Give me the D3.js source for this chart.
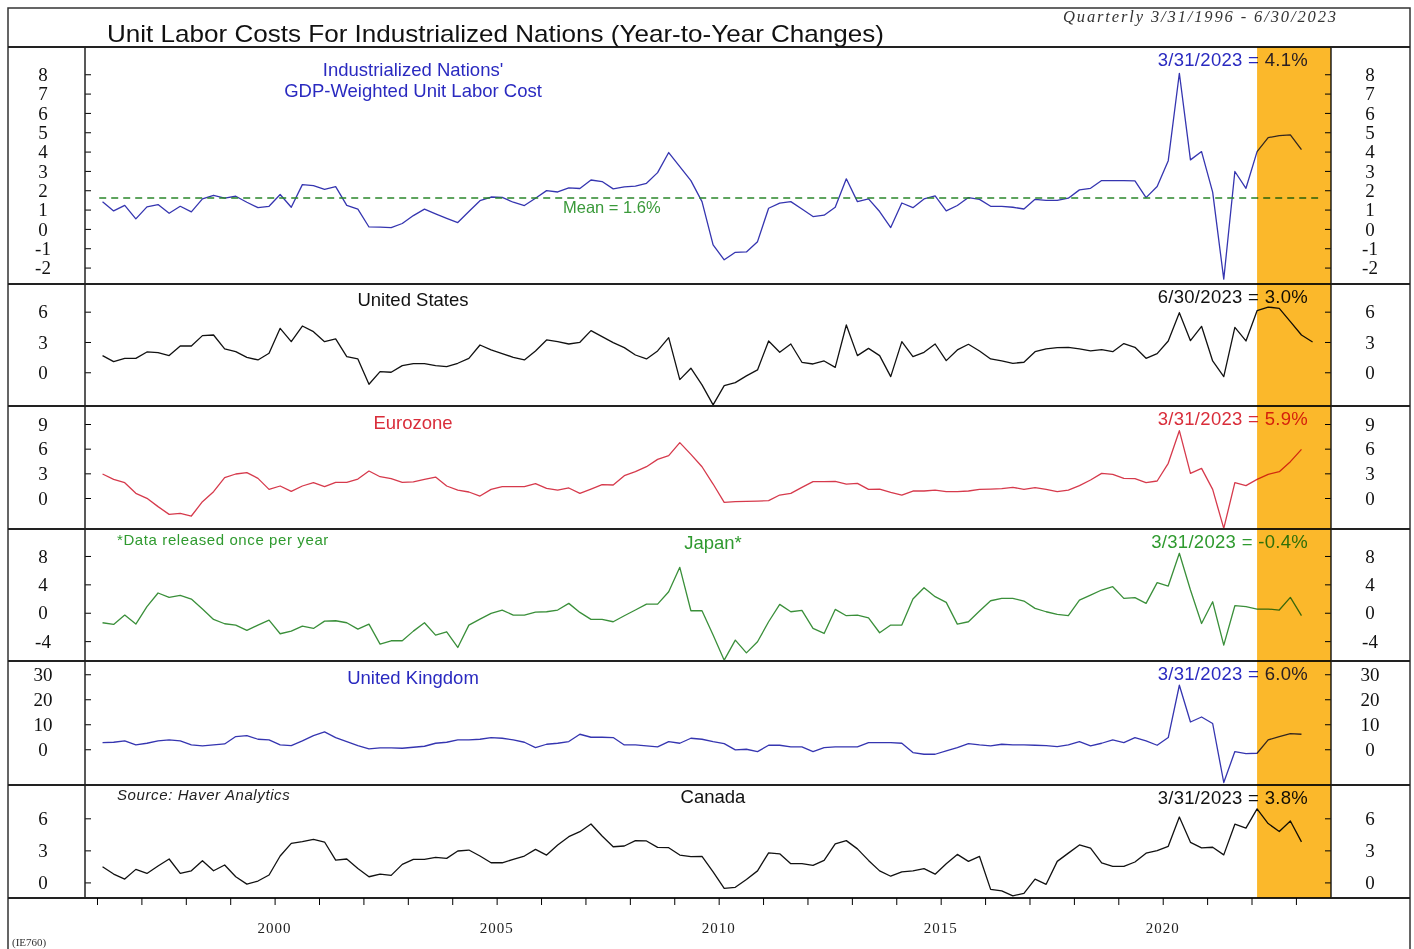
<!DOCTYPE html>
<html>
<head>
<meta charset="utf-8">
<script src="https://cdn.jsdelivr.net/npm/d3@7"></script>
<style>
  body { margin: 0; background: #fff; }
  svg { display: block; }
  .sans { font-family: "Liberation Sans", Arial, sans-serif; }
  .serif { font-family: "Liberation Serif", "Times New Roman", serif; }
</style>
</head>
<body>
<div id="chart"></div>
<script>
// quarterly data, first quarter 1996 Q1
let startYear = 1996;

let industrial = [1.41,0.93,1.22,0.52,1.14,1.26,0.81,1.17,0.88,1.55,
  1.74,1.59,1.69,1.38,1.10,1.17,1.78,1.12,2.29,2.24,
  2.05,2.19,1.22,1.02,0.10,0.09,0.07,0.28,0.69,1.02,
  0.78,0.55,0.33,0.90,1.46,1.65,1.63,1.38,1.21,1.59,
  1.98,1.91,2.12,2.09,2.53,2.45,2.07,2.17,2.21,2.36,
  2.91,3.95,3.22,2.50,1.41,-0.83,-1.60,-1.21,-1.19,-0.66,
  1.07,1.33,1.41,1.03,0.64,0.71,1.12,2.59,1.41,1.55,
  0.90,0.07,1.34,1.10,1.55,1.71,0.93,1.21,1.62,1.53,
  1.17,1.17,1.12,1.03,1.53,1.48,1.48,1.59,2.02,2.10,
  2.50,2.50,2.50,2.48,1.62,2.19,3.53,8.05,3.57,4.00,
  1.90,-2.60,2.97,2.10,4.00,4.72,4.83,4.86,4.10];

let unitedStates = [1.65,1.06,1.38,1.38,2.01,1.95,1.65,2.60,2.60,3.63,
  3.69,2.31,2.04,1.48,1.22,1.88,4.35,3.03,4.58,4.02,
  3.03,3.30,1.55,1.32,-1.19,0.07,0.00,0.66,0.86,0.86,
  0.66,0.56,0.89,1.38,2.70,2.21,1.85,1.48,1.22,2.11,
  3.20,3.03,2.80,2.97,4.12,3.53,2.93,2.44,1.71,1.32,
  2.11,3.43,-0.73,0.40,-1.25,-3.23,-1.32,-1.02,-0.36,0.23,
  3.10,1.98,2.80,0.99,0.82,1.12,0.49,4.68,1.65,2.37,
  1.65,-0.43,3.03,1.55,1.98,2.80,1.15,2.21,2.77,2.11,
  1.32,1.12,0.89,0.99,2.04,2.31,2.44,2.47,2.31,2.11,
  2.24,2.04,2.84,2.47,1.38,1.85,3.10,5.90,3.13,4.55,
  1.12,-0.43,4.45,3.10,6.10,6.46,6.33,5.01,3.69,3.00];

let eurozone = [2.92,2.27,1.86,0.57,-0.04,-1.05,-1.99,-1.86,-2.19,-0.45,
  0.77,2.47,2.92,3.08,2.39,1.05,1.46,0.81,1.46,1.86,
  1.38,1.91,1.91,2.31,3.28,2.59,2.35,1.91,1.95,2.27,
  2.55,1.46,0.97,0.73,0.24,1.05,1.38,1.38,1.38,1.74,
  1.18,0.97,1.22,0.57,1.09,1.62,1.58,2.72,3.20,3.81,
  4.70,5.15,6.73,5.30,3.80,1.70,-0.53,-0.45,-0.41,-0.37,
  -0.32,0.36,0.57,1.30,1.99,1.99,2.03,1.70,1.78,1.05,
  1.09,0.69,0.36,0.85,0.85,0.97,0.77,0.77,0.85,1.05,
  1.09,1.13,1.30,1.05,1.26,1.05,0.77,0.97,1.50,2.19,
  3.00,2.88,2.39,2.35,1.86,2.07,4.22,8.19,3.00,3.61,
  1.05,-3.69,1.86,1.50,2.27,2.88,3.20,4.42,5.92];

let japan = [-1.41,-1.65,-0.33,-1.60,0.85,2.78,2.16,2.45,1.93,0.52,
  -0.94,-1.55,-1.74,-2.49,-1.74,-1.04,-2.96,-2.59,-1.88,-2.21,
  -1.18,-1.13,-1.41,-2.31,-1.60,-4.42,-3.95,-3.95,-2.59,-1.41,
  -3.15,-2.68,-4.89,-1.74,-0.89,-0.09,0.38,-0.33,-0.33,0.09,
  0.14,0.38,1.32,0.05,-0.94,-0.94,-1.27,-0.42,0.38,1.22,
  1.22,2.96,6.40,0.28,0.28,-3.15,-6.68,-3.86,-5.65,-4.09,
  -1.27,1.18,0.14,0.33,-2.21,-2.92,0.47,-0.42,-0.33,-0.71,
  -2.82,-1.74,-1.74,1.93,3.53,2.26,1.46,-1.60,-1.27,0.24,
  1.69,2.02,2.02,1.65,0.61,0.14,-0.24,-0.42,1.79,2.49,
  3.20,3.67,2.02,2.12,1.32,4.24,3.76,8.38,3.20,-1.51,
  1.55,-4.56,0.99,0.85,0.52,0.52,0.38,2.16,-0.40];

let unitedKingdom = [2.67,2.80,3.33,1.73,2.40,3.33,3.73,3.33,1.73,1.33,
  1.73,2.13,5.07,5.47,4.00,3.73,1.73,1.47,3.33,5.47,
  6.93,4.67,3.07,1.47,0.13,0.53,0.53,0.40,0.80,1.20,
  2.40,2.80,3.73,3.73,4.00,4.67,4.40,3.73,2.80,0.67,
  2.00,2.40,3.07,6.00,4.80,4.80,4.67,1.73,1.73,1.33,
  0.93,3.07,2.40,4.40,4.00,3.07,2.27,-0.27,0.00,-0.93,
  1.60,1.60,0.93,0.93,-0.93,0.67,0.93,0.93,0.93,2.67,
  2.67,2.67,2.40,-1.33,-2.00,-2.00,-0.67,0.67,2.27,1.73,
  1.33,2.00,1.73,1.73,1.60,1.47,1.07,1.73,3.07,1.33,
  2.40,3.73,2.67,4.67,3.33,1.60,4.67,25.6,10.9,12.9,
  10.3,-13.3,-0.93,-1.73,-1.60,3.73,5.07,6.27,6.00];

let canada = [1.47,0.78,0.31,1.22,0.84,1.53,2.19,0.84,1.09,2.03,
  1.09,1.63,0.53,-0.16,0.13,0.69,2.47,3.66,3.81,4.03,
  3.78,2.09,2.19,1.31,0.53,0.78,0.66,1.69,2.16,2.16,
  2.34,2.25,2.94,3.03,2.47,1.84,1.84,2.16,2.47,3.09,
  2.56,3.50,4.28,4.75,5.47,4.34,3.34,3.41,3.91,3.88,
  3.28,3.25,2.56,2.41,2.43,0.98,-0.55,-0.46,0.28,1.08,
  2.77,2.68,1.75,1.75,1.60,2.06,3.60,3.91,3.14,2.06,
  1.08,0.58,0.98,1.08,1.29,0.77,1.75,2.62,1.97,2.43,
  -0.65,-0.80,-1.26,-1.02,0.31,-0.18,1.97,2.74,3.51,3.20,
  1.82,1.51,1.51,1.91,2.74,2.98,3.38,6.12,3.75,3.23,
  3.29,2.58,5.45,5.08,6.89,5.51,4.77,5.75,3.80];

let panelNames = ["Industrialized Nations'|GDP-Weighted Unit Labor Cost", "United States", "Eurozone", "Japan*", "United Kingdom", "Canada"];
let lastLabels = ["3/31/2023 = 4.1%", "6/30/2023 = 3.0%", "3/31/2023 = 5.9%", "3/31/2023 = -0.4%", "3/31/2023 = 6.0%", "3/31/2023 = 3.8%"];
let panelTicks = [[-2,-1,0,1,2,3,4,5,6,7,8], [0,3,6], [0,3,6,9], [-4,0,4,8], [0,10,20,30], [0,3,6]];
let industrialMean = 1.6;
let yearTicks = d3.range(1996, 2024);
let highlightStart = 2022.125;

let W = 1414, H = 949;
let left = 85, right = 1331;

let svg = d3.select("#chart").append("svg")
    .attr("width", W)
    .attr("height", H);

svg.append("rect").attr("width", W).attr("height", H).attr("fill", "#fff");

let x = d3.scaleLinear().domain([1995.73, 2023.79]).range([left, right]);
let qx = function(i) { return x(startYear + 0.125 + i * 0.25); };

// panel layout: top, bottom, y domain, colours
let panels = [
  {data: industrial,    top: 47,  bottom: 284, dom: [-2.85, 9.41],  color: "#3535b0", text: "#2a2ac0"},
  {data: unitedStates,  top: 284, bottom: 406, dom: [-3.34, 8.74],  color: "#111111", text: "#111111"},
  {data: eurozone,      top: 406, bottom: 529, dom: [-3.77, 11.19], color: "#d63a4c", text: "#d92d3a"},
  {data: japan,         top: 529, bottom: 661, dom: [-6.8, 11.8],   color: "#3a8f3a", text: "#2f9a2f"},
  {data: unitedKingdom, top: 661, bottom: 785, dom: [-14.3, 35.3],  color: "#3535b0", text: "#2a2ac0"},
  {data: canada,        top: 785, bottom: 898, dom: [-1.46, 9.12],  color: "#111111", text: "#111111"}
];

let lines = svg.append("g");
let frame = svg.append("g");

panels.forEach(function(p, k) {
  let y = d3.scaleLinear().domain(p.dom).range([p.bottom, p.top]);
  p.y = y;

  let line = d3.line()
      .x(function(d, i) { return qx(i); })
      .y(function(d) { return y(d); });

  lines.append("path")
      .datum(p.data)
      .attr("d", line)
      .attr("fill", "none")
      .attr("stroke", p.color)
      .attr("stroke-width", 1.3)
      .attr("stroke-linejoin", "round");

  // inward ticks on both sides
  frame.append("g")
      .attr("transform", "translate(" + left + ",0)")
      .call(d3.axisRight(y).tickValues(panelTicks[k]).tickSize(6).tickFormat(""))
      .call(function(g) { g.select(".domain").remove(); });
  frame.append("g")
      .attr("transform", "translate(" + right + ",0)")
      .call(d3.axisLeft(y).tickValues(panelTicks[k]).tickSize(6).tickFormat(""))
      .call(function(g) { g.select(".domain").remove(); });

  panelTicks[k].forEach(function(t) {
    frame.append("text").attr("class", "serif")
        .attr("x", 43).attr("y", y(t)).attr("dy", "0.35em")
        .attr("text-anchor", "middle").attr("font-size", 19).attr("fill", "#111")
        .text(t);
    frame.append("text").attr("class", "serif")
        .attr("x", 1370).attr("y", y(t)).attr("dy", "0.35em")
        .attr("text-anchor", "middle").attr("font-size", 19).attr("fill", "#111")
        .text(t);
  });

  // last value annotation
  lines.append("text").attr("class", "sans")
      .attr("x", 1308).attr("y", p.top + 19)
      .attr("text-anchor", "end").attr("font-size", 18.5).attr("letter-spacing", 0.3)
      .attr("fill", p.text)
      .text(lastLabels[k]);
});

// series names
let names = lines.append("g").attr("class", "sans").attr("font-size", 18.5);
names.append("text").attr("x", 413).attr("y", 76).attr("text-anchor", "middle")
    .attr("fill", panels[0].text).text(panelNames[0].split("|")[0]);
names.append("text").attr("x", 413).attr("y", 97).attr("text-anchor", "middle")
    .attr("fill", panels[0].text).text(panelNames[0].split("|")[1]);
names.append("text").attr("x", 413).attr("y", 306).attr("text-anchor", "middle")
    .attr("fill", panels[1].text).text(panelNames[1]);
names.append("text").attr("x", 413).attr("y", 429).attr("text-anchor", "middle")
    .attr("fill", panels[2].text).text(panelNames[2]);
names.append("text").attr("x", 713).attr("y", 549).attr("text-anchor", "middle")
    .attr("fill", panels[3].text).text(panelNames[3]);
names.append("text").attr("x", 413).attr("y", 684).attr("text-anchor", "middle")
    .attr("fill", panels[4].text).text(panelNames[4]);
names.append("text").attr("x", 713).attr("y", 803).attr("text-anchor", "middle")
    .attr("fill", panels[5].text).text(panelNames[5]);

lines.append("text").attr("class", "sans")
    .attr("x", 117).attr("y", 545).attr("font-size", 15).attr("letter-spacing", 0.6)
    .attr("fill", panels[3].text)
    .text("*Data released once per year");
lines.append("text").attr("class", "sans")
    .attr("x", 117).attr("y", 800).attr("font-size", 15).attr("letter-spacing", 0.6)
    .attr("font-style", "italic").attr("fill", "#222")
    .text("Source: Haver Analytics");

// mean line
let y0 = panels[0].y;
lines.append("line")
    .attr("x1", x(1996.05)).attr("x2", x(2023.5))
    .attr("y1", y0(industrialMean)).attr("y2", y0(industrialMean))
    .attr("stroke", "#2a872a").attr("stroke-width", 1.3)
    .attr("stroke-dasharray", "7,5");
lines.append("text").attr("class", "sans")
    .attr("x", 563).attr("y", 213).attr("font-size", 16.5).attr("fill", "#3a9a3a")
    .text("Mean = " + industrialMean + "%");

// frame lines
frame.append("rect")
    .attr("x", 8).attr("y", 8).attr("width", 1402).attr("height", 960)
    .attr("fill", "none").attr("stroke", "#333").attr("stroke-width", 1.5);
[47, 284, 406, 529, 661, 785, 898].forEach(function(yy) {
  frame.append("line").attr("x1", 8).attr("x2", 1410).attr("y1", yy).attr("y2", yy)
      .attr("stroke", "#222").attr("stroke-width", 2);
});
[left, right].forEach(function(xx) {
  frame.append("line").attr("x1", xx).attr("x2", xx).attr("y1", 47).attr("y2", 898)
      .attr("stroke", "#222").attr("stroke-width", 1.5);
});

// bottom year axis
let xa = frame.append("g").attr("transform", "translate(0,898)");
xa.call(d3.axisBottom(x).tickValues(yearTicks).tickSize(7).tickFormat(""))
  .call(function(g) { g.select(".domain").remove(); });
yearTicks.filter(function(d) { return d % 5 == 0; }).forEach(function(d) {
  frame.append("text").attr("class", "serif")
      .attr("x", x(d)).attr("y", 933).attr("text-anchor", "middle")
      .attr("font-size", 15).attr("fill", "#222").attr("letter-spacing", 1)
      .text(d);
});

// title block
frame.append("text").attr("class", "sans")
    .attr("x", 107).attr("y", 42).attr("font-size", 24).attr("fill", "#111")
    .attr("textLength", 777).attr("lengthAdjust", "spacingAndGlyphs")
    .text("Unit Labor Costs For Industrialized Nations (Year-to-Year Changes)");
frame.append("text").attr("class", "serif")
    .attr("x", 1063).attr("y", 22).attr("font-size", 16.5).attr("font-style", "italic")
    .attr("fill", "#333").attr("textLength", 273).attr("lengthAdjust", "spacing")
    .text("Quarterly 3/31/1996 - 6/30/2023");
frame.append("text").attr("class", "serif")
    .attr("x", 12).attr("y", 946).attr("font-size", 11).attr("fill", "#333")
    .text("(IE760)");

// highlighted period, multiplied over the lines
svg.append("rect")
    .attr("x", x(highlightStart)).attr("y", 47)
    .attr("width", right - x(highlightStart)).attr("height", 898 - 47)
    .attr("fill", "#fbb82b")
    .style("mix-blend-mode", "multiply");
</script>
</body>
</html>
